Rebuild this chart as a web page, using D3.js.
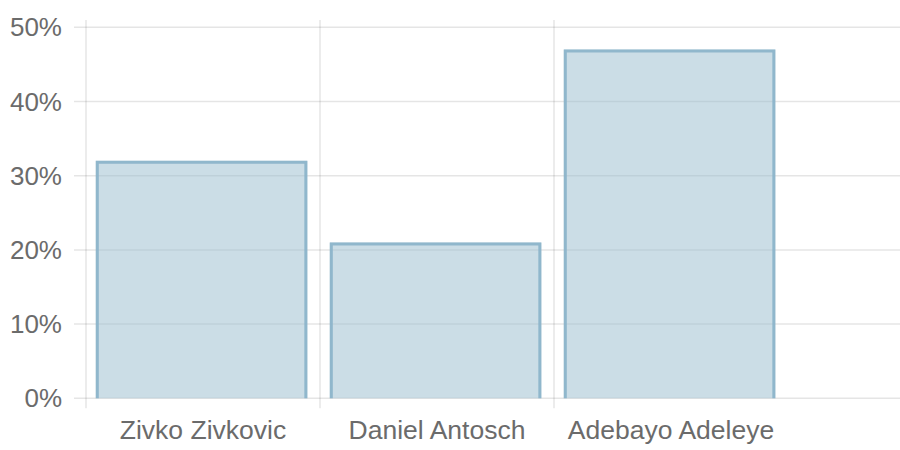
<!DOCTYPE html>
<html><head><meta charset="utf-8">
<script src="https://cdn.jsdelivr.net/npm/d3@7"></script>
<style>body{margin:0;background:#fff}svg{display:block}</style>
</head><body>
<svg id="c" width="900" height="450"></svg>
<script>
const categories = ["Zivko Zivkovic", "Daniel Antosch", "Adebayo Adeleye"];
const values = [0.32, 0.21, 0.47];
const yTicks = [0, 0.1, 0.2, 0.3, 0.4, 0.5];

(function () {
const svg = d3.select("#c");
const mLeft = 86, mTop = 27.3, mBottom = 398.3, mRight = 900;
const slot = 234;
const x = d3.scaleBand().domain(categories).range([mLeft, mLeft + slot * categories.length]).padding(0);
const y = d3.scaleLinear().domain([0, 0.5]).range([mBottom, mTop]);
const grid = "rgba(0,0,0,0.1)";
const font = "'Liberation Sans', Arial, Helvetica, sans-serif";

svg.append("g").selectAll("line").data(yTicks).join("line")
  .attr("x1", mLeft - 12).attr("x2", mRight)
  .attr("y1", d => y(d)).attr("y2", d => y(d))
  .attr("stroke", grid).attr("stroke-width", 1.5);
svg.append("g").selectAll("line").data(categories).join("line")
  .attr("x1", d => x(d)).attr("x2", d => x(d))
  .attr("y1", 20).attr("y2", mBottom + 10)
  .attr("stroke", grid).attr("stroke-width", 1.5);

svg.append("g").selectAll("text").data(yTicks).join("text")
  .attr("x", 62).attr("y", d => y(d)).attr("dy", "0.35em")
  .attr("text-anchor", "end").attr("fill", "#6b6b6b")
  .style("font-family", font).style("font-size", "26px")
  .text(d => d3.format(".0%")(d));

svg.append("g").selectAll("text").data(categories).join("text")
  .attr("x", d => x(d) + x.bandwidth() / 2).attr("y", 430).attr("dy", "0.35em")
  .attr("text-anchor", "middle").attr("fill", "#6b6b6b")
  .style("font-family", font).style("font-size", "26.5px")
  .text(d => d);

const inset = 9.8, bw = x.bandwidth() * 0.904, sw = 3;
const bars = svg.append("g").selectAll("g").data(categories.map((c, i) => ({c, v: values[i]}))).join("g");
bars.append("rect")
  .attr("x", d => x(d.c) + inset).attr("width", bw)
  .attr("y", d => y(d.v)).attr("height", d => y(0) - y(d.v))
  .attr("fill", "rgba(151,187,205,0.5)");
bars.append("path")
  .attr("d", d => {
    const x0 = x(d.c) + inset + sw / 2, x1 = x(d.c) + inset + bw - sw / 2;
    const yt = y(d.v) + sw / 2, yb = y(0);
    return `M${x0},${yb}V${yt}H${x1}V${yb}`;
  })
  .attr("fill", "none").attr("stroke", "rgba(140,180,202,0.95)").attr("stroke-width", sw);
})();
</script>
</body></html>
